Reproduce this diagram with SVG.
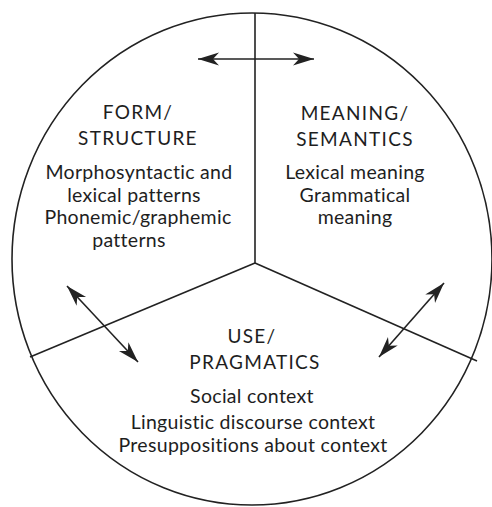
<svg xmlns="http://www.w3.org/2000/svg" width="492" height="507" viewBox="0 0 492 507">
<style>
.ln{fill:none;stroke:#222;stroke-width:1.6}
.ar{fill:none;stroke:#222;stroke-width:1.6}
text{font-family:"Lato","Open Sans","DejaVu Sans",sans-serif;fill:#1e1e1e;text-anchor:middle}
.h{font-size:19px;letter-spacing:1.3px}
.b{font-size:19.5px;letter-spacing:0.3px}
</style>
<defs>
<marker id="ah" markerUnits="userSpaceOnUse" markerWidth="24" markerHeight="16" viewBox="-22 -8 24 16" refX="0" refY="0" orient="auto-start-reverse">
<path d="M0,0 L-21,-6.5 L-15,0 L-21,6.5 Z" fill="#222"/>
</marker>
</defs>
<rect width="492" height="507" fill="#fff"/>
<g id="frame">
<ellipse class="ln" cx="252" cy="259" rx="240" ry="246"/>
<line class="ln" x1="255" y1="13" x2="255" y2="263"/>
<line class="ln" x1="255" y1="263" x2="30" y2="357"/>
<line class="ln" x1="255" y1="263" x2="477" y2="361"/>
</g>
<g id="form">
<text class="h" x="138" y="119">FORM/</text>
<text class="h" x="138" y="145">STRUCTURE</text>
<text class="b" x="139" y="179">Morphosyntactic and</text>
<text class="b" x="134" y="202">lexical patterns</text>
<text class="b" x="138" y="224">Phonemic/graphemic</text>
<text class="b" x="129" y="247">patterns</text>
</g>
<g id="meaning">
<text class="h" x="355" y="120">MEANING/</text>
<text class="h" x="355" y="146">SEMANTICS</text>
<text class="b" x="355" y="179">Lexical meaning</text>
<text class="b" x="355" y="202">Grammatical</text>
<text class="b" x="355" y="224">meaning</text>
</g>
<g id="use">
<text class="h" x="252" y="343">USE/</text>
<text class="h" x="255" y="369">PRAGMATICS</text>
<text class="b" x="252" y="403">Social context</text>
<text class="b" x="253" y="429">Linguistic discourse context</text>
<text class="b" x="253" y="452">Presuppositions about context</text>
</g>
<g id="connectors">
<line class="ar" x1="198" y1="59" x2="314" y2="59" marker-start="url(#ah)" marker-end="url(#ah)"/>
<line class="ar" x1="67" y1="286" x2="138" y2="362" marker-start="url(#ah)" marker-end="url(#ah)"/>
<line class="ar" x1="444" y1="283" x2="379" y2="357" marker-start="url(#ah)" marker-end="url(#ah)"/>
</g>
</svg>
